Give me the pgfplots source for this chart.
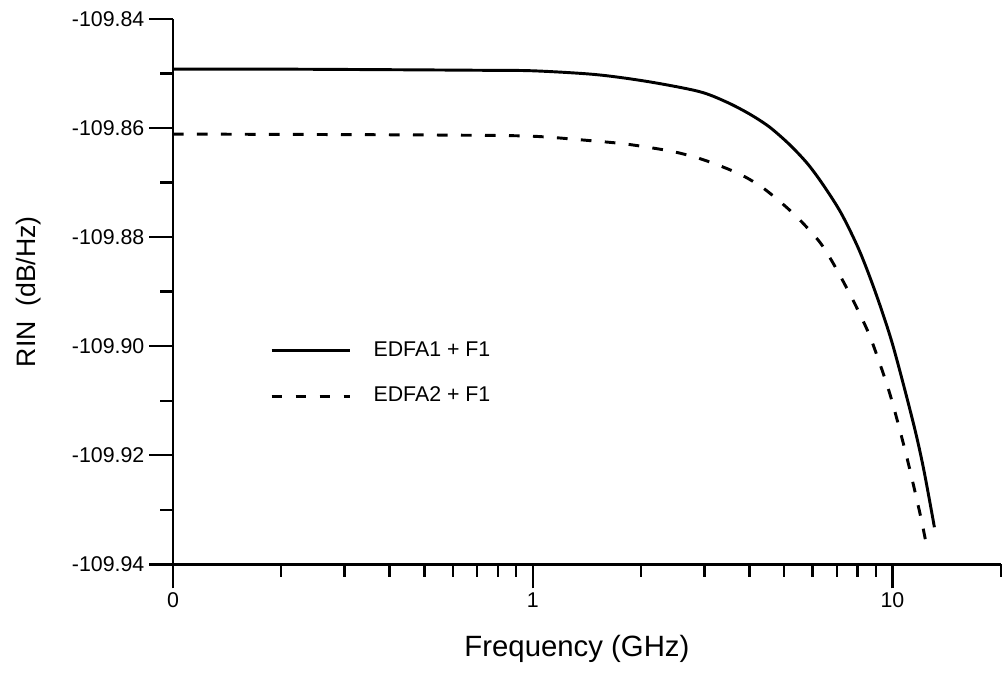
\documentclass[border=0pt]{standalone}
\usepackage{pgfplots}
\pgfplotsset{compat=1.18}
\usepackage{fontspec}
\setmainfont{Liberation Sans}

\pgfplotstableread{
f v
0.1 -109.8492
0.2 -109.8492
0.4 -109.8493
0.7 -109.8494
1.0 -109.8495
1.5 -109.8502
2.1 -109.8515
2.9 -109.8533
3.45 -109.8552
4.0 -109.8574
4.55 -109.8598
5.17 -109.8630
5.8 -109.8665
6.4 -109.8703
7.2 -109.8756
8.095 -109.8825
9.01 -109.8905
10.02 -109.8998
11.39 -109.9137
12.19 -109.9223
13.08 -109.9332
}\solid

\pgfplotstableread{
f v
0.1 -109.8611
0.3 -109.8612
0.6 -109.8613
1.0 -109.8615
1.5 -109.8624
1.8 -109.8629
2.08 -109.8635
2.45 -109.8643
2.85 -109.8654
3.31 -109.8669
3.83 -109.8687
4.35 -109.8709
4.95 -109.8739
5.52 -109.8768
6.26 -109.8808
6.76 -109.8842
7.28 -109.8880
7.8 -109.8918
8.36 -109.8959
8.81 -109.8995
9.82 -109.9086
10.9 -109.9197
11.9 -109.9304
12.4 -109.9361
}\dashed

\begin{document}
\begin{tikzpicture}
\path[use as bounding box] (-129.75pt,-81.5pt) rectangle (621.75pt,423.25pt);
\begin{axis}[
  scale only axis,
  width=620.8pt, height=409pt,
  xmode=log, xmin=0.1, xmax=20,
  ymin=-109.94, ymax=-109.84,
  axis x line*=bottom, axis y line*=left,
  axis line style={line width=2pt, -},
  tick align=outside,
  major tick length=18pt, minor tick length=9.5pt,
  every tick/.style={line width=1.8pt, black},
  xtick={0.1,1,10}, xticklabels={0,1,10},
  minor xtick={0.2,0.3,0.4,0.5,0.6,0.7,0.8,0.9,2,3,4,5,6,7,8,9,20},
  ytick={-109.94,-109.92,-109.90,-109.88,-109.86,-109.84},
  yticklabels={-109.94,-109.92,-109.90,-109.88,-109.86,-109.84},
  minor ytick={-109.93,-109.91,-109.89,-109.87,-109.85},
  ticklabel style={font=\fontsize{16}{19}\selectfont},
  xlabel={Frequency (GHz)},
  xlabel style={font=\fontsize{22}{26}\selectfont, at={(axis description cs:0.488,0)}, anchor=center, yshift=-63.5pt},
  ylabel={RIN\ \ (dB/Hz)},
  ylabel style={font=\fontsize{20}{24}\selectfont, at={(axis description cs:-0.175,0.5)}, anchor=center},
  legend cell align=left,
  legend image code/.code={\draw[#1] (0pt,0pt) -- (58.5pt,0pt);},
  legend style={draw=none, fill=none, inner sep=0pt, row sep=20pt,
    at={(axis description cs:0.1172,0.409)}, anchor=north west,
    font=\fontsize{16}{19}\selectfont,
    nodes={inner sep=0pt, text height=11pt, text depth=3pt},
    /tikz/every odd column/.append style={column sep=16.75pt}},
]
\addplot[black, line width=2.2pt, smooth] table[x=f, y=v] {\solid};
\addlegendentry{EDFA1 + F1}
\addplot[black, line width=2.2pt, smooth, dash pattern=on 8pt off 10pt] table[x=f, y=v] {\dashed};
\addlegendentry{EDFA2 + F1}
\end{axis}
\end{tikzpicture}
\end{document}
